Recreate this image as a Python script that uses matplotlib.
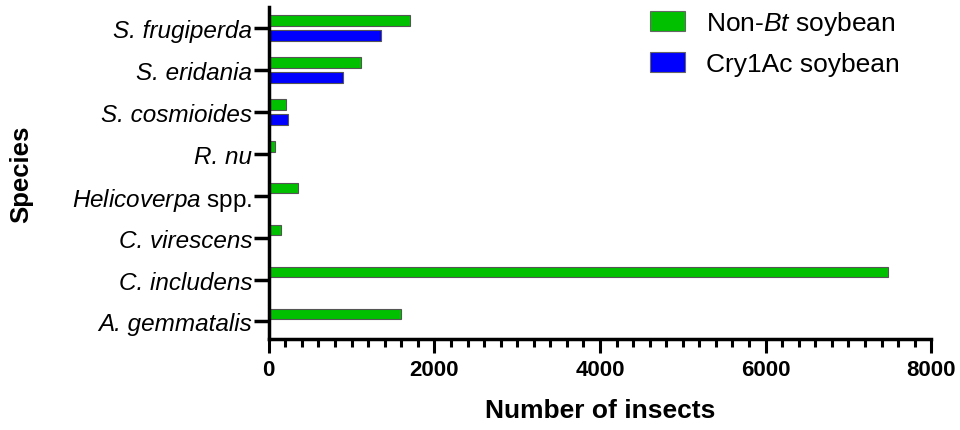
import matplotlib
matplotlib.use("Agg")
import matplotlib.pyplot as plt
import numpy as np

species = ["S. frugiperda", "S. eridania", "S. cosmioides", "R. nu",
           r"$\it{Helicoverpa}$ spp.", "C. virescens", "C. includens", "A. gemmatalis"]
non_bt = [1710, 1115, 210, 80, 350, 150, 7480, 1595]
cry1ac = [1355, 895, 235, 0, 0, 0, 0, 0]
series_labels = [r"Non-$\it{Bt}$ soybean", "Cry1Ac soybean"]

plt.rcParams['font.family'] = ['Liberation Sans', 'DejaVu Sans']
plt.rcParams['mathtext.fontset'] = 'custom'
plt.rcParams['mathtext.rm'] = 'Liberation Sans'
plt.rcParams['mathtext.it'] = 'Liberation Sans:italic'
plt.rcParams['mathtext.bf'] = 'Liberation Sans:bold'

fig = plt.figure(figsize=(9.6, 4.31), dpi=100)
ax = fig.add_axes([0.280, 0.211, 0.690, 0.770])

y = np.arange(len(species))
h = 0.25
ax.barh(y - 0.18, non_bt, height=h, color='#00C000', edgecolor='#555555', linewidth=0.8, label=series_labels[0])
mask = np.array(cry1ac) > 0
ax.barh(y[mask] + 0.18, np.array(cry1ac)[mask], height=h, color='#0000FF', edgecolor='#555555', linewidth=0.8, label=series_labels[1])

ax.set_xlim(0, 8000)
ax.set_ylim(7.42, -0.5)
ax.set_yticks(y)
ax.set_yticklabels(species, fontsize=17.5)
for lbl in ax.get_yticklabels():
    if '$' not in lbl.get_text():
        lbl.set_fontstyle('italic')
ax.set_xticks([0, 2000, 4000, 6000, 8000])
ax.set_xticks(np.arange(0, 8001, 200), minor=True)
for lbl in ax.get_xticklabels():
    lbl.set_fontweight('bold')
ax.tick_params(axis='x', labelsize=16, length=10, width=2.2, pad=4)
ax.tick_params(axis='x', which='minor', length=6, width=2.2)
ax.tick_params(axis='y', length=11, width=2.5, pad=1)

for s in ['top', 'right']:
    ax.spines[s].set_visible(False)
for s in ['left', 'bottom']:
    ax.spines[s].set_linewidth(2.5)

ax.set_xlabel("Number of insects", fontsize=19, fontweight='bold', labelpad=13)
ax.set_ylabel("Species", fontsize=18.5, fontweight='bold')
ax.yaxis.set_label_coords(-0.355, 0.5)

leg = ax.legend(loc='upper left', bbox_to_anchor=(0.54, 1.065), frameon=False,
                fontsize=19, handlelength=1.3, handleheight=0.8, handletextpad=0.8,
                labelspacing=0.55)
for p in leg.get_patches():
    p.set_edgecolor('#666666')

fig.savefig("out.png", dpi=100)
